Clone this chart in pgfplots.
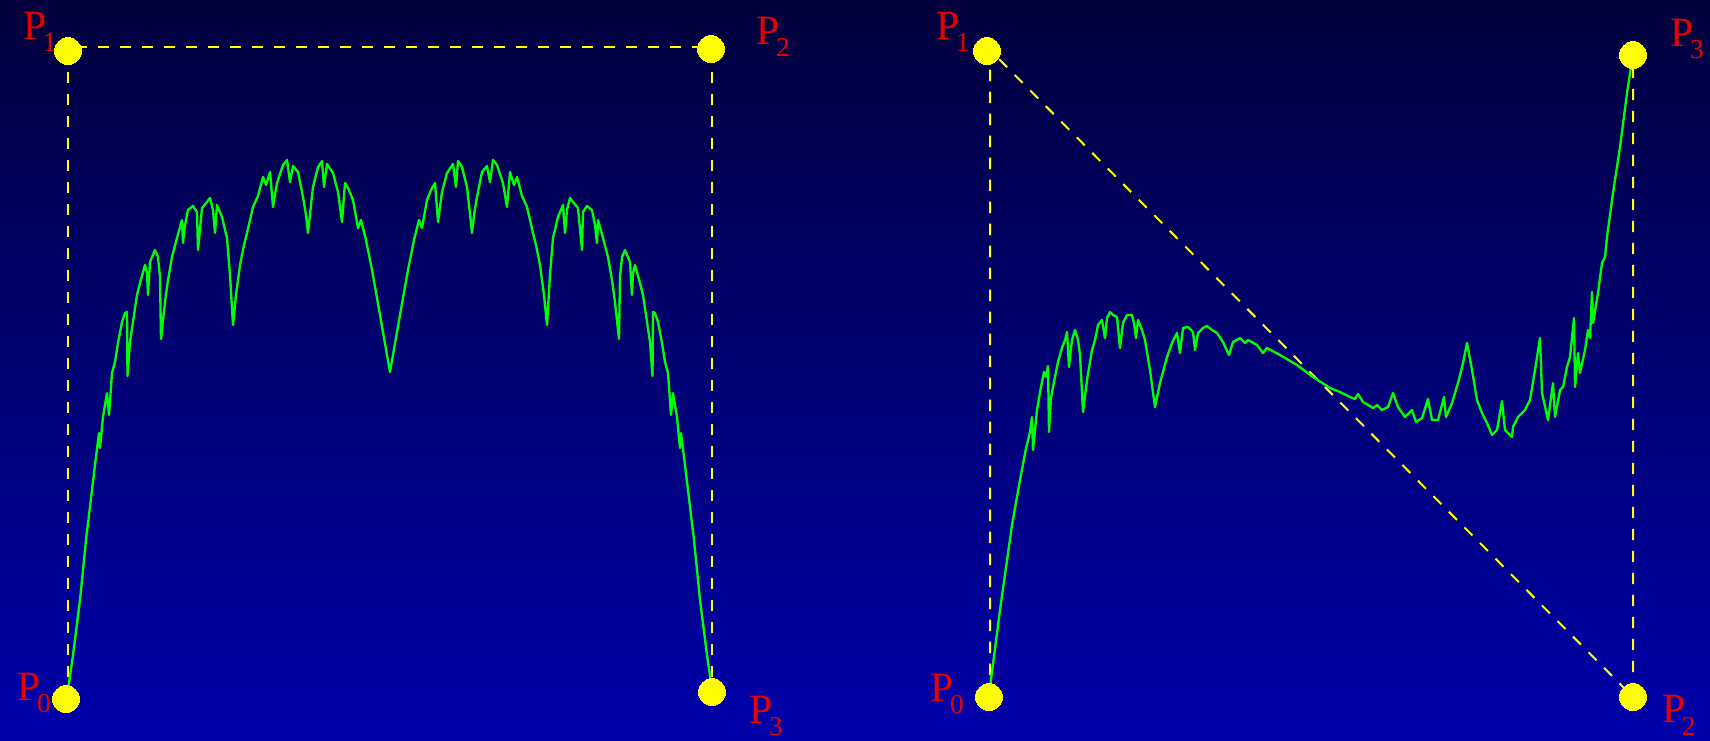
\documentclass[border=0pt]{standalone}
\usepackage{pgfplots}
\pgfplotsset{compat=1.18}
\usepackage{fontspec}
\setmainfont{Liberation Serif}
\definecolor{bgtop}{RGB}{0,0,60}
\definecolor{bgbot}{RGB}{0,0,170}
\definecolor{lbl}{RGB}{235,0,0}
\definecolor{ptyel}{RGB}{255,255,0}
\definecolor{crv}{RGB}{0,255,0}
\newcommand{\Pl}[1]{P\kern-1.1pt{\fontsize{8.2pt}{9pt}\selectfont\raisebox{-3.8pt}{#1}}}
\begin{document}
\begin{tikzpicture}
\path[use as bounding box] (0,0) rectangle (513pt,222pt);
\fill[top color=bgtop,bottom color=bgbot] (0,0) rectangle (513pt,222pt);
\begin{axis}[at={(0,0)},anchor=south west,scale only axis,width=513pt,height=222pt,
  xmin=0,xmax=1710,ymin=0,ymax=740,y dir=reverse,axis lines=none,ticks=none,clip=false]
% control polygons
\addplot[ptyel,line width=0.6pt,dash pattern=on 3.4pt off 3.2pt] coordinates {(68,699) (68,47) (711.5,47) (711.5,692)};
\addplot[ptyel,line width=0.6pt,dash pattern=on 3.4pt off 3.2pt] coordinates {(990,697) (990,50) (1633,697) (1633,55)};
% control points
\addplot[ptyel,only marks,mark=*,mark size=4.05pt,mark options={fill=ptyel,draw=ptyel,line width=0pt}] coordinates {(66,699) (68,51) (711,49) (712,692)};
\addplot[ptyel,only marks,mark=*,mark size=4.05pt,mark options={fill=ptyel,draw=ptyel,line width=0pt}] coordinates {(989,697) (987,51) (1633,697) (1633,55)};
% left curve
\addplot[crv,line width=0.7pt,line join=round] coordinates {
(68,690) (73,655) (80,600) (86,540) (92,490) (95,465) (99,433) (100,448) (103,417) (107,393)
(109,415) (112,373) (115,362) (118,343) (122,322) (125,313) (127,312) (127.5,376) (130,342) (134,315)
(137,295) (140,283) (145,265) (147,273) (148,295) (150,262) (155,250) (158,257) (160,277) (161,339)
(165,302) (168,280) (172,257) (177,238) (182,220) (183,243) (185,225) (188,210) (193,206) (197,212)
(198,250) (202,208) (207,202) (210,198) (213,210) (215,233) (217,205) (222,217) (227,238) (230,275)
(233,325) (236,295) (240,265) (244,245) (247,233) (253,207) (258,196) (263,177) (266,185) (270,172)
(273,207) (277,183) (283,165) (287,160) (290,182) (293,166) (298,172) (303,197) (306,215) (308,233)
(311,205) (313,187) (318,167) (322,161) (324,187) (327,164) (333,173) (338,192) (342,222) (345,183)
(348,188) (353,200) (358,228) (361,220) (366,240) (372,270) (380,315) (390,372)
(400,315) (408,270) (414,240) (419,220) (422,228) (427,200) (432,188) (435,183) (438,222) (442,192)
(447,173) (453,164) (456,187) (458,161) (462,167) (467,187) (469,205) (472,233) (474,215) (477,197)
(482,172) (487,166) (490,182) (493,160) (497,165) (503,183) (507,207) (510,172) (514,185) (517,177)
(522,196) (527,207) (533,233) (536,245) (540,265) (544,295) (547,325) (550,275) (553,238) (558,217)
(563,205) (565,233) (567,210) (570,198) (573,202) (578,208) (582,250) (583,212) (587,206) (592,210)
(595,225) (597,243) (598,220) (603,238) (608,257) (612,280) (615,302) (619,339) (620,277) (622,257)
(625,250) (630,262) (632,295) (633,273) (635,265) (640,283) (643,295) (646,315) (650,342) (652.5,376)
(653,312) (655,313) (658,322) (662,343) (665,362) (668,373) (671,415) (673,393) (677,417) (680,448)
(681,433) (685,465) (688,490) (694,540) (700,600) (707,655) (712,690)};
% right curve
\addplot[crv,line width=0.7pt,line join=round] coordinates {
(989,695) (1000,610) (1012,525) (1020,480) (1025.7,450) (1030,432) (1032,417) (1033,450) (1037,410)
(1041,387) (1044,372) (1046,377) (1048,366) (1049,432) (1051,398) (1053,387) (1058,362) (1062,348)
(1065,340) (1067,332) (1069,367) (1072,340) (1075,330) (1078,340) (1080,355) (1083,412) (1087,380)
(1092,350) (1095,340) (1098,325) (1102,320) (1105,338) (1107,318) (1110,312) (1113,315) (1117,317)
(1120,348) (1123,323) (1127,315) (1132,315) (1134,323) (1136,338) (1138,320) (1142,330) (1145,340)
(1150,370) (1155,407) (1160,383) (1167,357) (1172,343) (1177,333) (1180,353) (1183,328) (1188,327)
(1193,332) (1195,350) (1198,333) (1203,328) (1207,326) (1212,330) (1217,333) (1223,342) (1229,355)
(1233,342) (1240,338) (1245,343) (1248,340) (1257,345) (1263,353) (1267,348) (1280,355) (1297,365)
(1313,377) (1330,388) (1340,392) (1350,397) (1355,399) (1358,394) (1363,402) (1373,408) (1377,405)
(1382,410) (1388,407) (1393,393) (1398,407) (1405,417) (1412,410) (1416,422) (1422,418) (1428,399)
(1432,420) (1438,420) (1444,397) (1446,417) (1452,403) (1458,383) (1463,363) (1467,343) (1472,370)
(1477,400) (1482,413) (1487,423) (1492,435) (1497,430) (1502,401) (1505,430) (1512,437) (1513,427)
(1518,417) (1522,413) (1525,410) (1530,400) (1535,370) (1540,338) (1542,393) (1548,420) (1553,383)
(1555,417) (1560,390) (1563,387) (1567,367) (1570,357) (1574,318) (1575,387) (1578,353) (1580,373)
(1585,350) (1588,330) (1590,338) (1592,292) (1593,323) (1598,293) (1602,263) (1605,257) (1607,237)
(1613,193) (1620,147) (1627,93) (1633,54)};
% labels
\tikzset{plab/.style={anchor=base west,text=lbl,font=\fontsize{12.5pt}{14pt}\selectfont,inner sep=0pt}}
\node[plab] at (axis cs:22.7,39.3) {\Pl{1}};
\node[plab] at (axis cs:17,700) {\Pl{0}};
\node[plab] at (axis cs:756,44) {\Pl{2}};
\node[plab] at (axis cs:749,723.3) {\Pl{3}};
\node[plab] at (axis cs:936,39.3) {\Pl{1}};
\node[plab] at (axis cs:930,701) {\Pl{0}};
\node[plab] at (axis cs:1670,46) {\Pl{3}};
\node[plab] at (axis cs:1661.7,722.7) {\Pl{2}};
\end{axis}
\end{tikzpicture}
\end{document}
